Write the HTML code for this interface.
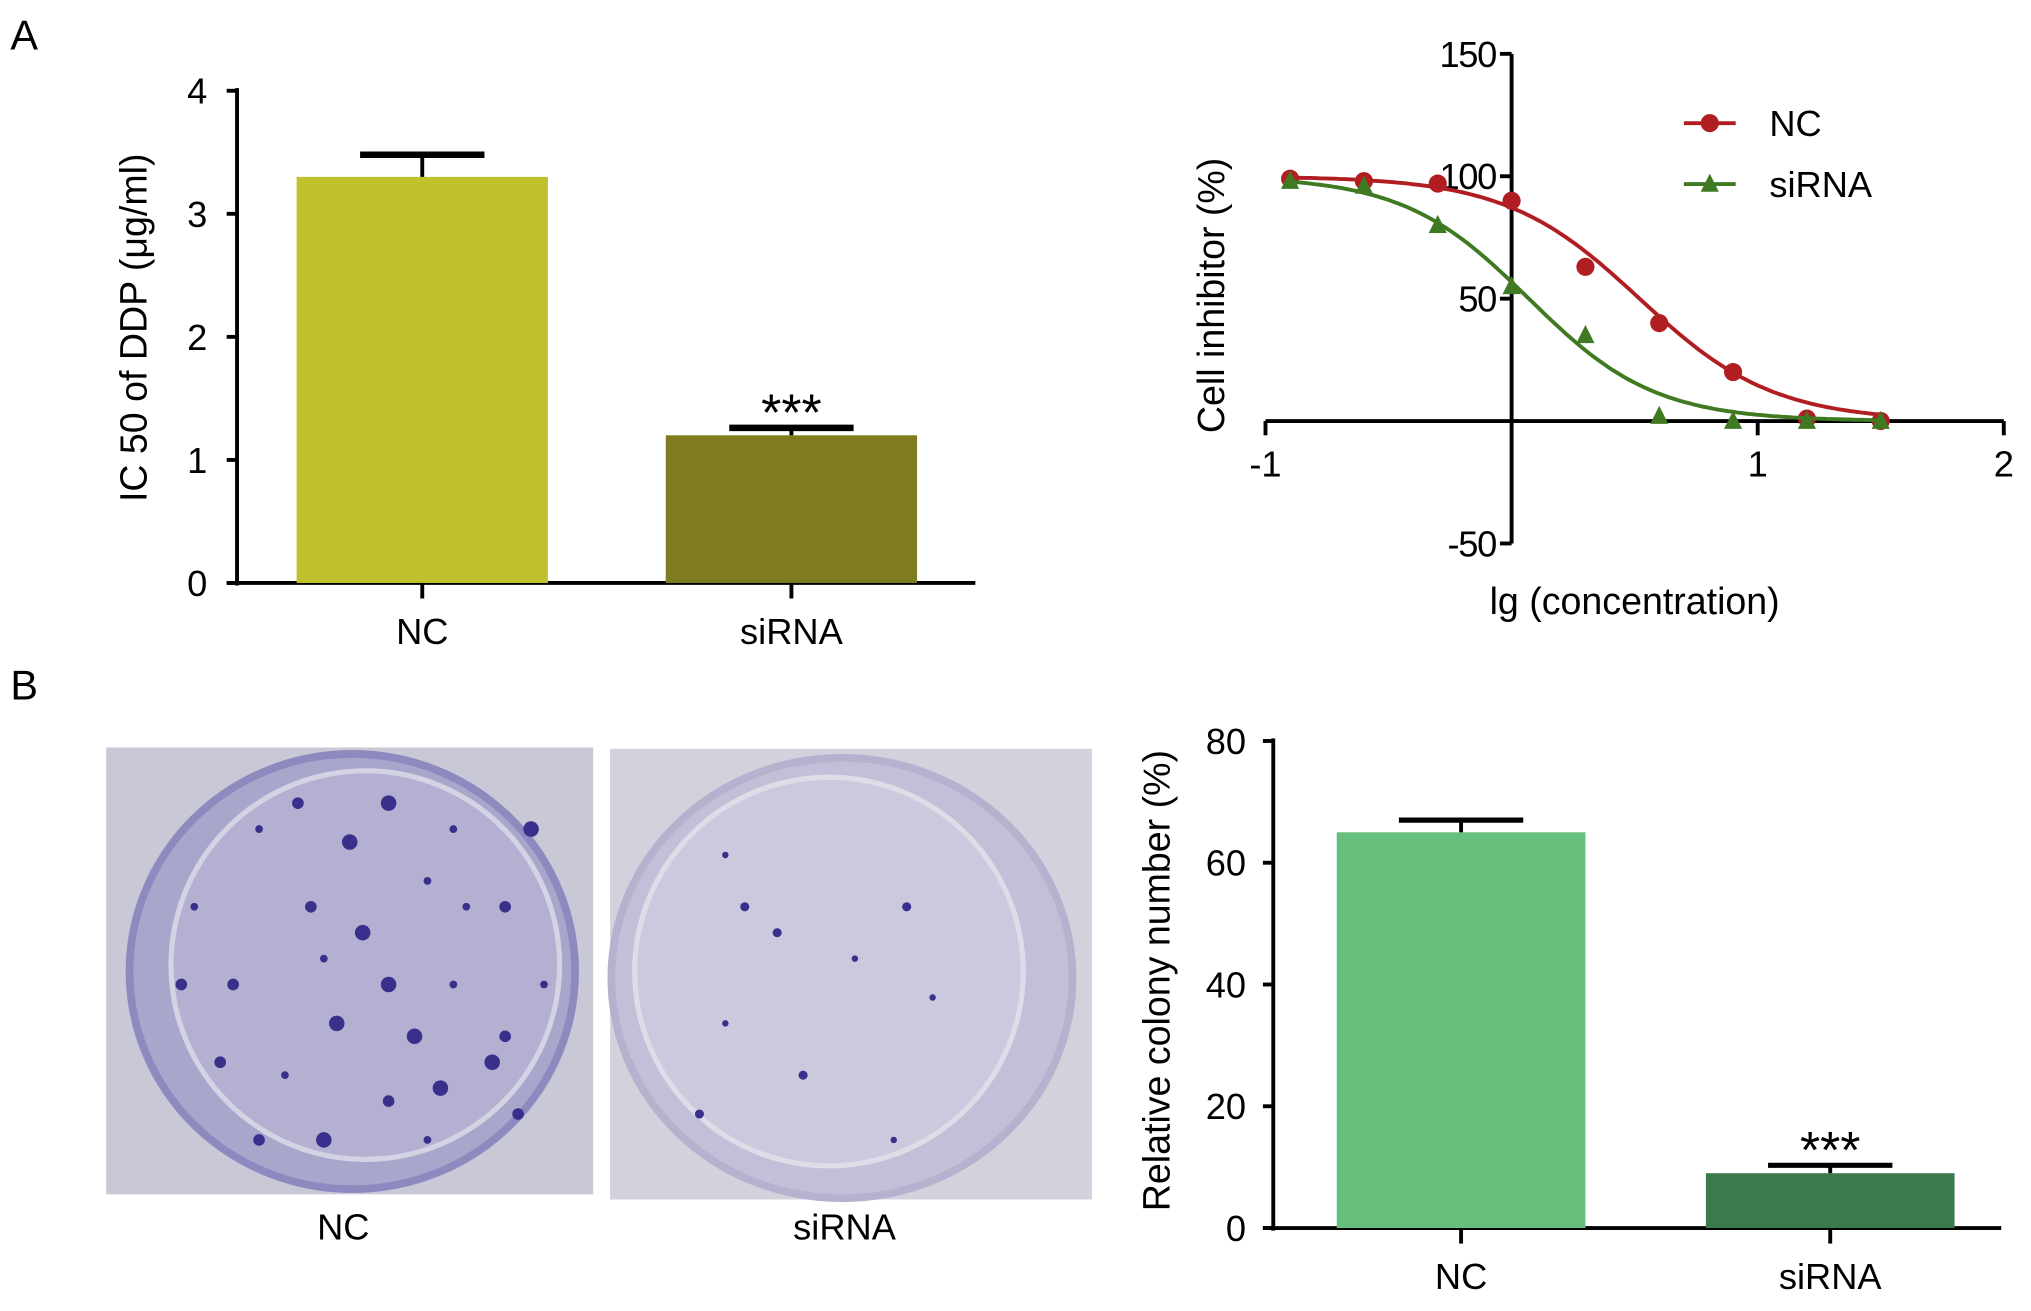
<!DOCTYPE html>
<html><head><meta charset="utf-8"><style>
html,body{margin:0;padding:0;background:#fff}
svg{display:block;font-family:"Liberation Sans",Arial,sans-serif}
</style></head><body>
<svg id="fig" width="2031" height="1311" viewBox="0 0 1568 1012" xmlns="http://www.w3.org/2000/svg">
<rect width="1568" height="1012" fill="#fff"/>
<text x="8" y="38" font-size="32">A</text>
<text x="8" y="540" font-size="32">B</text>
<g id="g1"></g>
<g id="g2"></g>
<g id="g3">
  <rect x="82" y="577" width="376" height="345" fill="#c9c8d6"/>
  <ellipse cx="272" cy="750" rx="172" ry="168" fill="#a9a6cc" stroke="#8e8ac0" stroke-width="6"/>
  <ellipse cx="282" cy="745" rx="150" ry="150" fill="#b3b0d2" stroke="#d4d3e4" stroke-width="4"/>
  <rect x="471" y="578" width="372" height="348" fill="#d2d2dc"/>
  <ellipse cx="650" cy="755" rx="178" ry="170" fill="#c2c0d8" stroke="#b4b2cf" stroke-width="6"/>
  <ellipse cx="640" cy="750" rx="150" ry="150" fill="#cbc9de" stroke="#dddde8" stroke-width="4"/>
  <text x="265" y="957" font-size="28" text-anchor="middle">NC</text>
  <text x="652" y="957" font-size="28" text-anchor="middle">siRNA</text>
</g>
<g id="g4"></g>
</svg>
<script>
// ---- Chart 1: IC50 ----
const icCats=["NC","siRNA"];
const icVals=[3.3,1.2];
const icErr=[0.18,0.06];
const icTicks=[0,1,2,3,4];
// ---- Chart 2: dose response ----
const drX=[-0.9,-0.6,-0.3,0,0.3,0.6,0.9,1.2,1.5];
const drNC=[99,98,97,90,63,40,20,1,0];
const drSi=[98,96,80,55,35,2,0,0,0];
const drLogIC50=[0.52,0.07];
const drHill=[1.6,1.7];
const drYTicks=[-50,50,100,150];
const drXTicks=[-1,1,2];
// ---- Chart 3: colony ----
const colCats=["NC","siRNA"];
const colVals=[65,9];
const colErr=[2,1.3];
const colTicks=[0,20,40,60,80];
// colonies (decorative photo spots)
const ncSpots=[[200,640],[240,700],[300,620],[330,680],[180,760],[260,790],[350,760],[390,700],[410,640],[220,830],[300,850],[380,820],[150,700],[170,820],[250,880],[330,880],[400,860],[280,720],[350,640],[230,620],[320,800],[420,760],[200,880],[270,650],[360,700],[140,760],[300,760],[250,740],[390,800],[340,840]];
const siSpots=[[560,660],[600,720],[660,740],[700,700],[560,790],[620,830],[720,770],[540,860],[690,880],[575,700]];

const NS="http://www.w3.org/2000/svg";
function mk(p,t,a){const e=document.createElementNS(NS,t);for(const k in a)e.setAttribute(k,a[k]);p.appendChild(e);return e;}

// Chart 1
(function(){
const g=document.getElementById('g1');
const y=v=>450-v*95, x0=183;
let e=mk(g,'line',{x1:x0,y1:68,x2:x0,y2:452,stroke:'#000','stroke-width':3});

e=mk(g,'line',{x1:175,y1:450,x2:753,y2:450,stroke:'#000','stroke-width':3});

icTicks.forEach(t=>{mk(g,'line',{x1:175,y1:y(t),x2:x0,y2:y(t),stroke:'#000','stroke-width':3});
 const l=mk(g,'text',{x:160,y:y(t)+10,'font-size':28,'text-anchor':'end'});l.textContent=t;
 });
const cx=[326,611],cols=['#c0c12c','#7e7c1e'];
icCats.forEach((c,i)=>{
 const b=mk(g,'rect',{x:cx[i]-97,y:y(icVals[i]),width:194,height:450-y(icVals[i]),fill:cols[i]});
 
 const yt=y(icVals[i]+icErr[i]);
 mk(g,'line',{x1:cx[i],y1:y(icVals[i]),x2:cx[i],y2:yt,stroke:'#000','stroke-width':3});
 const cap=mk(g,'line',{x1:cx[i]-48,y1:yt,x2:cx[i]+48,y2:yt,stroke:'#000','stroke-width':5});
 
 mk(g,'line',{x1:cx[i],y1:450,x2:cx[i],y2:462,stroke:'#000','stroke-width':3});
 const l=mk(g,'text',{x:cx[i],y:497,'font-size':28,'text-anchor':'middle'});l.textContent=c;
 
});
const s=mk(g,'text',{x:611,y:y(icVals[1]+icErr[1])+2,'font-size':40,'text-anchor':'middle'});s.textContent='***';

const yt=mk(g,'text',{x:0,y:0,'font-size':29,'text-anchor':'middle',transform:'translate(113,253) rotate(-90)'});yt.textContent='IC 50 of DDP (μg/ml)';

})();

// Chart 2
(function(){
const g=document.getElementById('g2');
const X=v=>1167+v*190, Y=v=>325-v*1.89;
let e=mk(g,'line',{x1:1167,y1:Y(150),x2:1167,y2:Y(-50),stroke:'#000','stroke-width':3});

e=mk(g,'line',{x1:X(-1),y1:325,x2:X(2),y2:325,stroke:'#000','stroke-width':3});

drYTicks.forEach(t=>{mk(g,'line',{x1:1158,y1:Y(t),x2:1167,y2:Y(t),stroke:'#000','stroke-width':3});
 const l=mk(g,'text',{x:1155,y:Y(t)+10,'font-size':28,'text-anchor':'end','letter-spacing':'-1'});l.textContent=t;
 });
drXTicks.forEach(t=>{mk(g,'line',{x1:X(t),y1:325,x2:X(t),y2:336,stroke:'#000','stroke-width':3});
 const l=mk(g,'text',{x:X(t),y:368,'font-size':28,'text-anchor':'middle'});l.textContent=t;
 });
const series=[[drNC,'#b01e22','circle','NC'],[drSi,'#3f7a22','tri','siRNA']];
series.forEach((s,k)=>{
 let d='';for(let i=0;i<=120;i++){const xv=-0.9+2.4*i/120;const yv=100/(1+Math.pow(10,(xv-drLogIC50[k])*drHill[k]));d+=(i?'L':'M')+X(xv).toFixed(1)+','+Y(yv).toFixed(1);}
 const p=mk(g,'path',{d:d,fill:'none',stroke:s[1],'stroke-width':3});
 
 s[0].forEach((v,i)=>{let m;
  if(s[2]=='circle')m=mk(g,'circle',{cx:X(drX[i]),cy:Y(v),r:7,fill:s[1]});
  else{const cx=X(drX[i]),cy=Y(v);m=mk(g,'polygon',{points:`${cx},${cy-8} ${cx-7},${cy+6} ${cx+7},${cy+6}`,fill:s[1]});}
  });
 const ly=95+k*47;
 const ll=mk(g,'line',{x1:1300,y1:ly,x2:1340,y2:ly,stroke:s[1],'stroke-width':3});
 
 if(s[2]=='circle')mk(g,'circle',{cx:1320,cy:ly,r:7,fill:s[1]});
 else mk(g,'polygon',{points:`1320,${ly-8} 1313,${ly+6} 1327,${ly+6}`,fill:s[1]});
 const t=mk(g,'text',{x:1366,y:ly+10,'font-size':28});t.textContent=s[3];
 
});
let t=mk(g,'text',{x:0,y:0,'font-size':29,'text-anchor':'middle',transform:'translate(945,228) rotate(-90)'});t.textContent='Cell inhibitor (%)';

t=mk(g,'text',{x:1262,y:474,'font-size':29,'text-anchor':'middle'});t.textContent='lg (concentration)';

})();

// photo spots
(function(){
const g=document.getElementById('g3');
ncSpots.forEach((p,i)=>{const c=mk(g,'circle',{cx:p[0],cy:p[1],r:3+(i%3)*1.5,fill:'#3b2f8c'});
 });
siSpots.forEach((p,i)=>{const c=mk(g,'circle',{cx:p[0],cy:p[1],r:2.5+(i%2),fill:'#3b2f8c'});
 });
})();

// Chart 3
(function(){
const g=document.getElementById('g4');
const y=v=>948-v*4.7, x0=983;
let e=mk(g,'line',{x1:x0,y1:570,x2:x0,y2:950,stroke:'#000','stroke-width':3});

e=mk(g,'line',{x1:975,y1:948,x2:1545,y2:948,stroke:'#000','stroke-width':3});

colTicks.forEach(t=>{mk(g,'line',{x1:975,y1:y(t),x2:x0,y2:y(t),stroke:'#000','stroke-width':3});
 const l=mk(g,'text',{x:962,y:y(t)+10,'font-size':28,'text-anchor':'end'});l.textContent=t;
 });
const cx=[1128,1413],cols=['#66bf7c','#3a7a4c'];
colCats.forEach((c,i)=>{
 const b=mk(g,'rect',{x:cx[i]-96,y:y(colVals[i]),width:192,height:948-y(colVals[i]),fill:cols[i]});
 
 const yt=y(colVals[i]+colErr[i]);
 mk(g,'line',{x1:cx[i],y1:y(colVals[i]),x2:cx[i],y2:yt,stroke:'#000','stroke-width':3});
 const cap=mk(g,'line',{x1:cx[i]-48,y1:yt,x2:cx[i]+48,y2:yt,stroke:'#000','stroke-width':4});
 
 mk(g,'line',{x1:cx[i],y1:948,x2:cx[i],y2:960,stroke:'#000','stroke-width':3});
 const l=mk(g,'text',{x:cx[i],y:995,'font-size':28,'text-anchor':'middle'});l.textContent=c;
 
});
const s=mk(g,'text',{x:1413,y:y(colVals[1]+colErr[1])+2,'font-size':40,'text-anchor':'middle'});s.textContent='***';

const yt=mk(g,'text',{x:0,y:0,'font-size':29,'text-anchor':'middle',transform:'translate(903,757) rotate(-90)'});yt.textContent='Relative colony number (%)';

})();
</script>
</body></html>
